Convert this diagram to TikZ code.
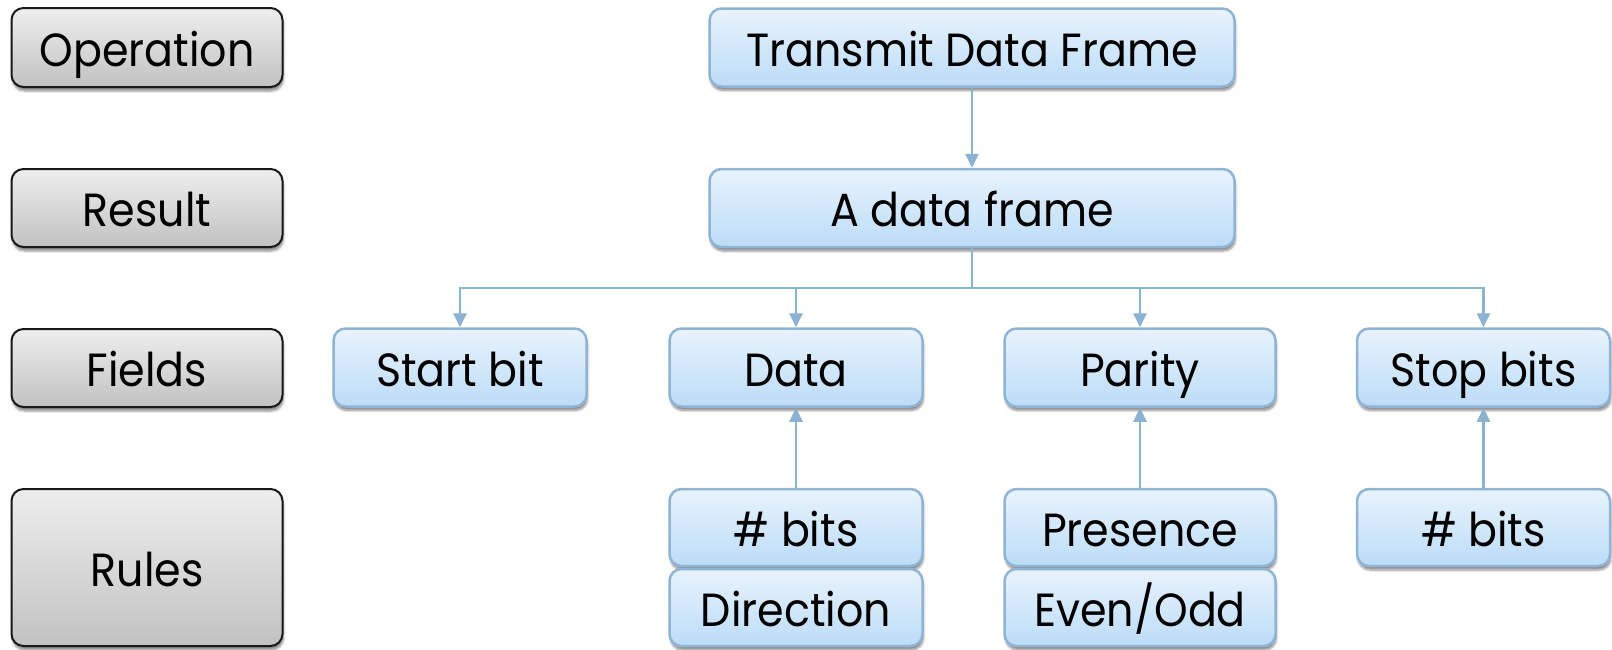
\documentclass[tikz,border=0pt]{standalone}
\usepackage{fontspec}
\setmainfont{Poppins}[FakeStretch=0.92]
\usetikzlibrary{arrows.meta,shadows.blur}

\definecolor{bluetop}{HTML}{E8F3FD}
\definecolor{bluebot}{HTML}{BCDCF8}
\definecolor{blueline}{HTML}{90B4D3}
\definecolor{graytop}{HTML}{EEEEEE}
\definecolor{graybot}{HTML}{C2C2C2}
\definecolor{linkcol}{HTML}{8CB2D1}

\tikzset{
  boxbase/.style={rounded corners=12pt, inner sep=0pt, align=center,
    font=\fontsize{46.5}{52}\selectfont, text=black,
    text height=37pt, text depth=0pt,
    blur shadow={shadow xshift=1pt, shadow yshift=-4pt,
      shadow blur steps=6, shadow blur extra rounding=2pt, shadow opacity=45}},
  levelbox/.style={boxbase, draw=black!90, line width=2pt,
    top color=graytop, bottom color=graybot},
  itembox/.style={boxbase, draw=blueline, line width=2.5pt,
    top color=bluetop, bottom color=bluebot},
  link/.style={draw=linkcol, line width=2.6pt},
  linkarrow/.style={link, -{Triangle[width=13pt,length=14pt]}},
}

\begin{document}
\begin{tikzpicture}[x=1pt, y=-1pt]
\useasboundingbox (0,0) rectangle (1612,649);

% level labels on the left
\node[levelbox, minimum width=271pt, minimum height=79pt] (op)  at (147,47.5)  {Operation};
\node[levelbox, minimum width=271pt, minimum height=78pt] (res) at (147,208)   {Result};
\node[levelbox, minimum width=271pt, minimum height=78pt] (fld) at (147,368)   {Fields};
\node[levelbox, minimum width=271pt, minimum height=157pt] (rul) at (147,567.5) {Rules};

% operation and result
\node[itembox, minimum width=525pt, minimum height=78pt] (tdf) at (972,47.5) {Transmit Data Frame};
\node[itembox, minimum width=525pt, minimum height=78pt] (adf) at (972,208)  {A data frame};

% fields
\node[itembox, minimum width=253pt, minimum height=78pt] (sb)  at (460,367.5)  {Start bit};
\node[itembox, minimum width=253pt, minimum height=78pt] (dat) at (796,367.5)  {Data};
\node[itembox, minimum width=271pt, minimum height=78pt] (par) at (1140,367.5) {Parity};
\node[itembox, minimum width=253pt, minimum height=78pt] (stp) at (1483.5,367.5) {Stop bits};

% rules
\node[itembox, minimum width=253pt, minimum height=77pt] (dbits) at (796,527.5)  {\# bits};
\node[itembox, minimum width=253pt, minimum height=77pt] (ddir)  at (796,607.5)  {Direction};
\node[itembox, minimum width=271pt, minimum height=77pt] (pres)  at (1140,527.5) {Presence};
\node[itembox, minimum width=271pt, minimum height=77pt] (peo)   at (1140,607.5) {Even/Odd};
\node[itembox, minimum width=253pt, minimum height=77pt] (sbits) at (1483.5,527.5) {\# bits};

% connectors
\coordinate (bus) at (972,288);
\draw[linkarrow] (tdf) -- (adf);
\draw[link] (adf.south) -- (bus);
\draw[linkarrow] (bus) -| (sb.north);
\draw[linkarrow] (bus) -| (dat.north);
\draw[linkarrow] (bus) -| (par.north);
\draw[linkarrow] (bus) -| (stp.north);
\draw[linkarrow] (dbits) -- (dat);
\draw[linkarrow] (pres) -- (par);
\draw[linkarrow] (sbits) -- (stp);
\end{tikzpicture}
\end{document}
